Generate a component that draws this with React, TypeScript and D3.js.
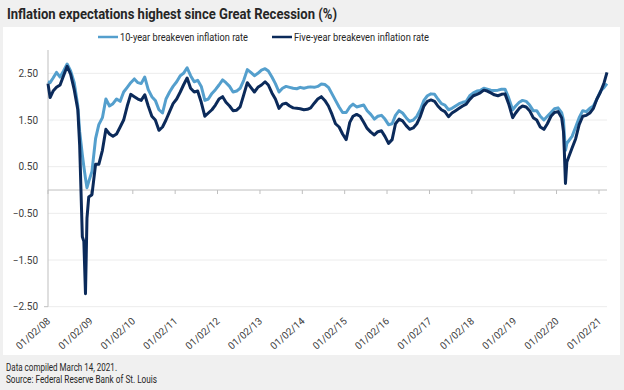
import React from 'react';
import * as d3 from 'd3';

// values (monthly, plus extra points around the two crashes)
const dates = [
  '2008-01-02', '2008-01-20', '2008-02-15', '2008-03-15', '2008-04-15', '2008-05-15', '2008-06-15',
  '2008-07-15', '2008-08-15', '2008-09-15', '2008-10-01', '2008-10-24', '2008-11-06', '2008-11-20',
  '2008-12-03', '2008-12-18',
  '2009-01-15', '2009-02-15', '2009-03-15', '2009-04-15', '2009-05-15', '2009-06-15',
  '2009-07-15', '2009-08-15', '2009-09-15', '2009-10-15', '2009-11-15', '2009-12-15',
  '2010-01-15', '2010-02-15', '2010-03-15', '2010-04-15', '2010-05-15', '2010-06-15',
  '2010-07-15', '2010-08-15', '2010-09-15', '2010-10-15', '2010-11-15', '2010-12-15',
  '2011-01-15', '2011-02-15', '2011-03-15', '2011-04-15', '2011-05-15', '2011-06-15',
  '2011-07-15', '2011-08-15', '2011-09-15', '2011-10-15', '2011-11-15', '2011-12-15',
  '2012-01-15', '2012-02-15', '2012-03-15', '2012-04-15', '2012-05-15', '2012-06-15',
  '2012-07-15', '2012-08-15', '2012-09-15', '2012-10-15', '2012-11-15', '2012-12-15',
  '2013-01-15', '2013-02-15', '2013-03-15', '2013-04-15', '2013-05-15', '2013-06-15',
  '2013-07-15', '2013-08-15', '2013-09-15', '2013-10-15', '2013-11-15', '2013-12-15',
  '2014-01-15', '2014-02-15', '2014-03-15', '2014-04-15', '2014-05-15', '2014-06-15',
  '2014-07-15', '2014-08-15', '2014-09-15', '2014-10-15', '2014-11-15', '2014-12-15',
  '2015-01-15', '2015-02-15', '2015-03-15', '2015-04-15', '2015-05-15', '2015-06-15',
  '2015-07-15', '2015-08-15', '2015-09-15', '2015-10-15', '2015-11-15', '2015-12-15',
  '2016-01-15', '2016-02-15', '2016-03-15', '2016-04-15', '2016-05-15', '2016-06-15',
  '2016-07-15', '2016-08-15', '2016-09-15', '2016-10-15', '2016-11-15', '2016-12-15',
  '2017-01-15', '2017-02-15', '2017-03-15', '2017-04-15', '2017-05-15', '2017-06-15',
  '2017-07-15', '2017-08-15', '2017-09-15', '2017-10-15', '2017-11-15', '2017-12-15',
  '2018-01-15', '2018-02-15', '2018-03-15', '2018-04-15', '2018-05-15', '2018-06-15',
  '2018-07-15', '2018-08-15', '2018-09-15', '2018-10-15', '2018-11-15', '2018-12-20',
  '2019-01-15', '2019-02-15', '2019-03-15', '2019-04-15', '2019-05-15', '2019-06-15',
  '2019-07-15', '2019-08-15', '2019-09-15', '2019-10-15', '2019-11-15', '2019-12-15',
  '2020-01-15', '2020-02-15', '2020-03-02', '2020-03-09', '2020-03-19', '2020-03-31',
  '2020-04-15', '2020-05-15', '2020-06-15', '2020-07-15', '2020-08-15', '2020-09-15',
  '2020-10-15', '2020-11-15', '2020-12-15',
  '2021-01-15', '2021-02-15', '2021-03-12',
];

const tenYear = [
  2.32, 2.30, 2.40, 2.52, 2.42, 2.55, 2.70, 2.55, 2.30, 1.80, 1.25, 0.75, 0.50, 0.25, 0.05, 0.18,
  0.40, 1.10, 1.40, 1.55, 1.95, 1.80, 1.85, 1.95, 1.90, 2.10, 2.20, 2.30,
  2.38, 2.30, 2.28, 2.42, 2.15, 2.00, 1.92, 1.72, 1.65, 1.95, 2.10, 2.22,
  2.32, 2.45, 2.50, 2.62, 2.45, 2.32, 2.35, 2.22, 1.92, 1.95, 2.07, 2.15,
  2.25, 2.36, 2.30, 2.22, 2.10, 2.12, 2.18, 2.35, 2.58, 2.52, 2.45, 2.50,
  2.57, 2.60, 2.55, 2.42, 2.28, 2.10, 2.18, 2.22, 2.20, 2.18, 2.17, 2.20,
  2.18, 2.20, 2.21, 2.20, 2.22, 2.27, 2.26, 2.20, 2.06, 1.92, 1.78, 1.66,
  1.66, 1.78, 1.84, 1.78, 1.80, 1.82, 1.70, 1.62, 1.52, 1.58, 1.60, 1.52,
  1.40, 1.42, 1.60, 1.70, 1.65, 1.55, 1.47, 1.50, 1.58, 1.72, 1.92, 2.02,
  2.06, 2.05, 1.95, 1.85, 1.82, 1.72, 1.75, 1.80, 1.85, 1.88, 1.90, 2.02,
  2.08, 2.12, 2.13, 2.18, 2.16, 2.14, 2.13, 2.14, 2.16, 2.16, 1.98, 1.72,
  1.80, 1.88, 1.92, 1.90, 1.82, 1.70, 1.70, 1.58, 1.50, 1.58, 1.66, 1.74,
  1.76, 1.66, 1.50, 1.20, 0.85, 1.00, 1.05, 1.15, 1.35, 1.55, 1.70, 1.68, 1.75, 1.80, 1.95,
  2.12, 2.20, 2.28,
];

const fiveYear = [
  2.28, 1.98, 2.12, 2.20, 2.25, 2.45, 2.65, 2.48, 2.15, 1.72, 0.95, -1.00, -1.10, -2.22, -0.60, -0.15,
  -0.10, 0.55, 0.55, 0.85, 1.30, 1.20, 1.15, 1.20, 1.35, 1.50, 1.80, 2.05,
  2.00, 1.95, 1.92, 2.04, 1.80, 1.58, 1.50, 1.28, 1.35, 1.50, 1.68, 1.85,
  1.95, 2.10, 2.25, 2.40, 2.18, 2.10, 2.12, 1.88, 1.58, 1.65, 1.72, 1.82,
  1.95, 2.00, 1.88, 1.80, 1.70, 1.71, 1.78, 2.04, 2.30, 2.20, 2.10, 2.20,
  2.25, 2.32, 2.25, 2.08, 1.95, 1.75, 1.84, 1.86, 1.80, 1.76, 1.75, 1.74,
  1.72, 1.73, 1.76, 1.86, 1.95, 2.00, 1.92, 1.80, 1.62, 1.42, 1.35, 1.20,
  1.08, 1.45, 1.58, 1.62, 1.58, 1.45, 1.32, 1.24, 1.18, 1.25, 1.27, 1.15,
  1.00, 1.08, 1.42, 1.52, 1.48, 1.38, 1.30, 1.33, 1.42, 1.58, 1.80, 1.90,
  1.93, 1.90, 1.80, 1.72, 1.68, 1.57, 1.65, 1.70, 1.75, 1.80, 1.84, 1.94,
  2.02, 2.05, 2.08, 2.14, 2.12, 2.08, 2.04, 2.02, 2.05, 2.06, 1.85, 1.55,
  1.65, 1.75, 1.80, 1.78, 1.70, 1.55, 1.50, 1.35, 1.30, 1.42, 1.58, 1.66,
  1.68, 1.55, 1.25, 0.85, 0.14, 0.60, 0.70, 0.90, 1.10, 1.40, 1.58, 1.60, 1.65, 1.75, 1.95,
  2.10, 2.30, 2.52,
];

const xTickLabels = [
  '01/02/08', '01/02/09', '01/02/10', '01/02/11', '01/02/12', '01/02/13', '01/02/14',
  '01/02/15', '01/02/16', '01/02/17', '01/02/18', '01/02/19', '01/02/20', '01/02/21',
];
const yTicks = [2.5, 1.5, 0.5, -0.5, -1.5, -2.5];

const seriesNames = ['10-year breakeven inflation rate', 'Five-year breakeven inflation rate'];
const colors = ['#549fcd', '#0b2a5a'];

const W = 624;
const H = 390;
const font = 'Roboto, "Liberation Sans", Arial, sans-serif';

const parseDay = d3.timeParse('%Y-%m-%d');
const parseTick = d3.timeParse('%m/%d/%y');

export default function App() {
  const days = dates.map(d => parseDay(d) as Date);

  const x = d3.scaleTime()
    .domain([parseDay('2008-01-02') as Date, parseDay('2021-03-12') as Date])
    .range([48, 607]);
  const y = d3.scaleLinear().domain([-2.5, 3]).range([306.7, 50]);

  const line = d3.line<number>()
    .x((_, i) => x(days[i]))
    .y(d => y(d));

  const fmt = d3.format('.2f');

  return (
    <svg width={W} height={H} style={{ position: 'absolute', left: 0, top: 0 }} fontFamily={font}>
      <rect width={W} height={H} fill="#f0f0f0" />
      <rect x={3} y={27} width={617} height={328} fill="#ffffff" />

      {/* title */}
      <text x={7} y={19} fontSize={15} fontWeight="bold" fill="#262626"
        textLength={330} lengthAdjust="spacingAndGlyphs">
        Inflation expectations highest since Great Recession (%)
      </text>

      {/* legend */}
      {seriesNames.map((name, i) => {
        const lx = i === 0 ? 98 : 272;
        return (
          <g key={name}>
            <line x1={lx} x2={lx + 20} y1={37} y2={37} stroke={colors[i]} strokeWidth={2.5} />
            <text x={lx + 22} y={40.5} fontSize={10} fill="#262626"
              textLength={i === 0 ? 128 : 135} lengthAdjust="spacingAndGlyphs">
              {name}
            </text>
          </g>
        );
      })}

      {/* gridlines + y labels */}
      {yTicks.map(t => (
        <g key={t}>
          <line x1={48} x2={607} y1={y(t)} y2={y(t)} stroke="#ececec" strokeWidth={1} />
          <text x={38} y={y(t) + 3.5} fontSize={10} textAnchor="end" fill="#404040">
            {fmt(t)}
          </text>
        </g>
      ))}

      {/* y axis */}
      <line x1={48} x2={48} y1={50} y2={y(-2.5)} stroke="#bfbfbf" strokeWidth={1} />
      <line x1={44} x2={48} y1={y(-2.5)} y2={y(-2.5)} stroke="#bfbfbf" strokeWidth={1} />

      {/* zero axis with year ticks */}
      <line x1={48} x2={607} y1={y(0)} y2={y(0)} stroke="#bfbfbf" strokeWidth={1} />
      {xTickLabels.map(l => {
        const tx = x(parseTick(l) as Date);
        return <line key={l} x1={tx} x2={tx} y1={y(0)} y2={y(0) + 4} stroke="#bfbfbf" strokeWidth={1} />;
      })}

      {/* series */}
      <path d={line(tenYear) || ''} fill="none" stroke={colors[0]} strokeWidth={3} strokeLinejoin="round" />
      <path d={line(fiveYear) || ''} fill="none" stroke={colors[1]} strokeWidth={3} strokeLinejoin="round" />

      {/* x labels */}
      {xTickLabels.map(l => {
        const tx = x(parseTick(l) as Date) + 3;
        return (
          <text key={l} x={tx} y={322} fontSize={10} textAnchor="end" fill="#404040"
            transform={`rotate(-42, ${tx}, 322)`}>
            {l}
          </text>
        );
      })}

      {/* footer */}
      <text x={6} y={371} fontSize={10.5} fill="#262626" textLength={111} lengthAdjust="spacingAndGlyphs">
        Data compiled March 14, 2021.
      </text>
      <text x={6} y={383} fontSize={10.5} fill="#262626" textLength={151} lengthAdjust="spacingAndGlyphs">
        Source: Federal Reserve Bank of St. Louis
      </text>
    </svg>
  );
}
